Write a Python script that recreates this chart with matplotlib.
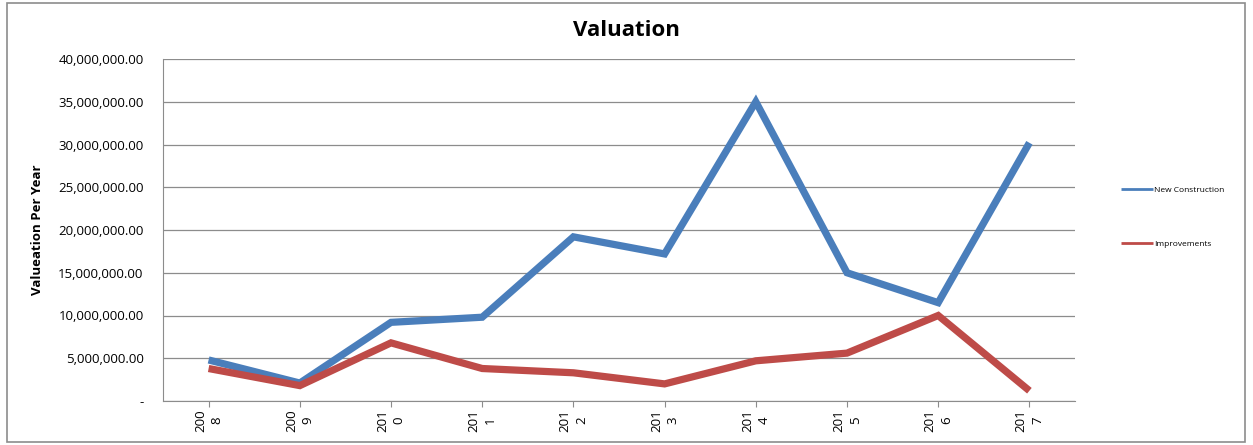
import matplotlib
matplotlib.use("Agg")
import matplotlib.pyplot as plt
from matplotlib.patches import Rectangle
from matplotlib.ticker import FuncFormatter, MultipleLocator

years = ["2008", "2009", "2010", "2011", "2012", "2013", "2014", "2015", "2016", "2017"]
new_construction = [4.8e6, 2.1e6, 9.2e6, 9.8e6, 19.2e6, 17.2e6, 35.0e6, 15.0e6, 11.5e6, 30.2e6]
improvements = [3.8e6, 1.8e6, 6.8e6, 3.8e6, 3.3e6, 2.0e6, 4.7e6, 5.6e6, 10.0e6, 1.2e6]

plt.rcParams['font.family'] = ['Open Sans', 'DejaVu Sans']

fig = plt.figure(figsize=(12.53, 4.45), dpi=100)
ax = fig.add_axes([163/1253, 1 - 401/445, (1075-163)/1253, (401-59)/445])

x = list(range(len(years)))
l1, = ax.plot(x, new_construction, color='#4A7EBB', lw=5.2, solid_joinstyle='miter',
              solid_capstyle='butt', label='New Construction')
l2, = ax.plot(x, improvements, color='#BE4B48', lw=5.2, solid_joinstyle='miter',
              solid_capstyle='butt', label='Improvements')

ax.set_xlim(-0.5, len(years) - 0.5)
ax.set_ylim(0, 40e6)
ax.yaxis.set_major_locator(MultipleLocator(5e6))
ax.yaxis.set_major_formatter(FuncFormatter(lambda v, p: '-' if v == 0 else f'{v:,.2f}'))
ax.grid(axis='y', color='#8c8c8c', lw=0.9)
ax.set_axisbelow(True)
ax.set_xticks(x)
ax.set_xticklabels([y[:3] + "\n" + y[3:] for y in years], rotation=90, fontsize=9.5, linespacing=1.35)
ax.tick_params(axis='y', labelsize=9.5, length=0, pad=14)
ax.tick_params(axis='x', length=4, color='#8c8c8c', pad=2)
for s in ['top', 'right']:
    ax.spines[s].set_visible(False)
for s in ['left', 'bottom']:
    ax.spines[s].set_color('#8c8c8c')
ax.set_ylabel('Valueation Per Year', fontsize=9.5, fontweight='bold', labelpad=10)
fig.text(626/1253, 1 - 31/445, 'Valuation', ha='center', va='center', fontsize=16, fontweight='bold')

fig.legend(handles=[l1, l2], loc='center left', bbox_to_anchor=(1117/1253, 1 - 217/445),
           frameon=False, fontsize=6, handlelength=3.8, handletextpad=0.1, labelspacing=5.6,
           borderpad=0)
for h in fig.legends[0].get_lines():
    h.set_linewidth(2)

fig.patches.append(Rectangle((7/1253, 3/445), (1245-7)/1253, (442-3)/445, transform=fig.transFigure,
                             fill=False, edgecolor='#8c8c8c', lw=1.2))
fig.savefig('out.png', dpi=100)
